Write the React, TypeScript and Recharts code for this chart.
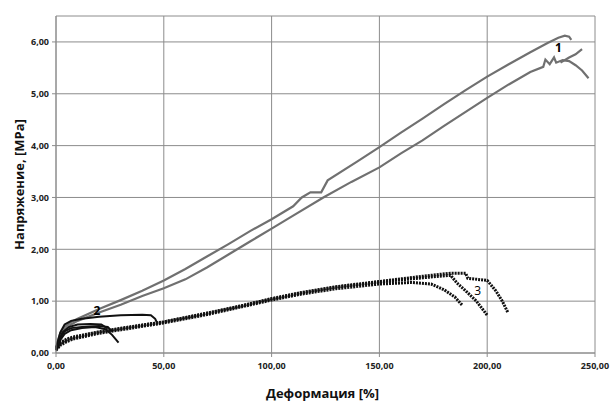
import React from "react";
import { LineChart, Line, XAxis, YAxis, CartesianGrid, Label, ReferenceDot } from "recharts";

// strain [%] / stress [MPa] readings
const curve1a = [
  { x: 0, y: 0.08 }, { x: 1, y: 0.25 }, { x: 2, y: 0.38 }, { x: 4, y: 0.5 }, { x: 7, y: 0.6 },
  { x: 10, y: 0.66 }, { x: 20, y: 0.85 }, { x: 30, y: 1.02 }, { x: 40, y: 1.2 }, { x: 50, y: 1.4 },
  { x: 60, y: 1.62 }, { x: 70, y: 1.86 }, { x: 80, y: 2.1 }, { x: 90, y: 2.35 }, { x: 100, y: 2.58 },
  { x: 110, y: 2.83 }, { x: 114, y: 3.0 }, { x: 118, y: 3.1 }, { x: 123, y: 3.1 }, { x: 126, y: 3.33 },
  { x: 140, y: 3.7 }, { x: 150, y: 3.97 }, { x: 160, y: 4.25 }, { x: 170, y: 4.52 }, { x: 180, y: 4.8 },
  { x: 190, y: 5.07 }, { x: 200, y: 5.33 }, { x: 210, y: 5.57 }, { x: 220, y: 5.8 }, { x: 228, y: 5.98 },
  { x: 233, y: 6.08 }, { x: 236, y: 6.12 }, { x: 238, y: 6.1 }, { x: 239, y: 6.04 },
];
const curve1b = [
  { x: 0, y: 0.05 }, { x: 1, y: 0.2 }, { x: 2, y: 0.32 }, { x: 4, y: 0.45 }, { x: 7, y: 0.55 },
  { x: 10, y: 0.62 }, { x: 20, y: 0.78 }, { x: 30, y: 0.93 }, { x: 40, y: 1.1 }, { x: 50, y: 1.25 },
  { x: 60, y: 1.42 }, { x: 70, y: 1.65 }, { x: 80, y: 1.9 }, { x: 90, y: 2.15 }, { x: 100, y: 2.4 },
  { x: 110, y: 2.65 }, { x: 124, y: 3.0 }, { x: 137, y: 3.3 }, { x: 150, y: 3.58 }, { x: 160, y: 3.85 },
  { x: 170, y: 4.1 }, { x: 180, y: 4.38 }, { x: 190, y: 4.65 }, { x: 200, y: 4.92 }, { x: 210, y: 5.18 },
  { x: 220, y: 5.42 }, { x: 226, y: 5.52 }, { x: 227, y: 5.66 }, { x: 229, y: 5.57 }, { x: 231, y: 5.7 },
  { x: 232, y: 5.6 }, { x: 235, y: 5.65 }, { x: 238, y: 5.63 }, { x: 241, y: 5.55 }, { x: 244, y: 5.45 },
  { x: 247, y: 5.3 },
];
const curve1c = [
  { x: 234, y: 5.6 }, { x: 238, y: 5.7 }, { x: 241, y: 5.76 }, { x: 244, y: 5.86 },
];
const curve2a = [
  { x: 0, y: 0.1 }, { x: 2, y: 0.4 }, { x: 4, y: 0.55 }, { x: 7, y: 0.62 }, { x: 12, y: 0.66 },
  { x: 20, y: 0.7 }, { x: 30, y: 0.73 }, { x: 40, y: 0.74 }, { x: 44, y: 0.73 }, { x: 46, y: 0.66 },
  { x: 47, y: 0.57 },
];
const curve2b = [
  { x: 0, y: 0.08 }, { x: 2, y: 0.3 }, { x: 4, y: 0.42 }, { x: 7, y: 0.48 }, { x: 12, y: 0.5 },
  { x: 20, y: 0.52 }, { x: 24, y: 0.5 }, { x: 26, y: 0.42 },
];
const curve2c = [
  { x: 0, y: 0.06 }, { x: 2, y: 0.25 }, { x: 4, y: 0.37 }, { x: 7, y: 0.44 }, { x: 12, y: 0.48 },
  { x: 18, y: 0.5 }, { x: 23, y: 0.46 }, { x: 26, y: 0.35 }, { x: 29, y: 0.2 },
];
const curve2d = [
  { x: 0, y: 0.08 }, { x: 3, y: 0.4 }, { x: 6, y: 0.5 }, { x: 10, y: 0.55 }, { x: 16, y: 0.56 },
  { x: 21, y: 0.55 }, { x: 24, y: 0.47 },
];
const curve3a = [
  { x: 0, y: 0.05 }, { x: 2, y: 0.15 }, { x: 5, y: 0.22 }, { x: 8, y: 0.27 }, { x: 20, y: 0.38 },
  { x: 35, y: 0.48 }, { x: 50, y: 0.58 }, { x: 70, y: 0.74 }, { x: 85, y: 0.88 }, { x: 100, y: 1.02 },
  { x: 113, y: 1.13 }, { x: 130, y: 1.24 }, { x: 150, y: 1.33 }, { x: 165, y: 1.36 }, { x: 174, y: 1.33 },
  { x: 180, y: 1.22 }, { x: 185, y: 1.08 }, { x: 188.5, y: 0.92 },
];
const curve3b = [
  { x: 0, y: 0.08 }, { x: 2, y: 0.18 }, { x: 5, y: 0.25 }, { x: 8, y: 0.29 }, { x: 20, y: 0.4 },
  { x: 35, y: 0.5 }, { x: 50, y: 0.6 }, { x: 70, y: 0.76 }, { x: 85, y: 0.9 }, { x: 100, y: 1.04 },
  { x: 113, y: 1.15 }, { x: 130, y: 1.27 }, { x: 150, y: 1.37 }, { x: 170, y: 1.45 }, { x: 183, y: 1.5 },
  { x: 186, y: 1.35 }, { x: 190, y: 1.2 }, { x: 195, y: 1.0 }, { x: 200, y: 0.73 },
];
const curve3c = [
  { x: 0, y: 0.1 }, { x: 2, y: 0.2 }, { x: 5, y: 0.27 }, { x: 8, y: 0.31 }, { x: 20, y: 0.41 },
  { x: 35, y: 0.51 }, { x: 50, y: 0.6 }, { x: 70, y: 0.77 }, { x: 85, y: 0.9 }, { x: 100, y: 1.05 },
  { x: 113, y: 1.16 }, { x: 130, y: 1.28 }, { x: 150, y: 1.38 }, { x: 170, y: 1.48 }, { x: 183, y: 1.54 },
  { x: 190, y: 1.54 }, { x: 191, y: 1.44 }, { x: 200, y: 1.4 }, { x: 204, y: 1.2 }, { x: 207, y: 1.0 },
  { x: 209.5, y: 0.79 },
];

const xTicks = [0, 50, 100, 150, 200, 250];
const yTicks = [0, 1, 2, 3, 4, 5, 6];

const fmt = (v: number) => v.toFixed(2).replace(".", ",");

const GRAY = "#707070";
const BLACK = "#111111";
const tickStyle = { fontFamily: "Open Sans", fontSize: 9, fontWeight: 700, fill: "#222" };

export default function App() {
  return (
    <div style={{ position: "absolute", left: 0, top: 0, background: "#fff" }}>
      <LineChart width={611} height={406} margin={{ top: 16, right: 16, left: 0, bottom: 0 }}>
        <CartesianGrid stroke="#8c8c8c" strokeWidth={1} />
        <XAxis
          type="number"
          dataKey="x"
          domain={[0, 250]}
          ticks={xTicks}
          tickFormatter={fmt}
          height={53}
          stroke="#8c8c8c"
          tickSize={4}
          tickMargin={6}
          tick={tickStyle}
          allowDuplicatedCategory={false}
        >
          <Label
            value="Деформация [%]"
            position="center"
            dy={14}
            dx={-3}
            style={{ fontFamily: "Open Sans", fontSize: 13, fontWeight: 700, fill: "#111" }}
          />
        </XAxis>
        <YAxis
          type="number"
          dataKey="y"
          domain={[0, 6.5]}
          ticks={yTicks}
          tickFormatter={fmt}
          width={56}
          stroke="#8c8c8c"
          tickSize={4}
          tickMargin={3}
          tick={tickStyle}
        >
          <Label
            value="Напряжение, [MPa]"
            angle={-90}
            position="center"
            dx={-9}
            style={{ fontFamily: "Open Sans", fontSize: 13, fontWeight: 700, fill: "#111" }}
          />
        </YAxis>
        <Line data={curve1a} dataKey="y" stroke={GRAY} strokeWidth={2.2} dot={false} isAnimationActive={false} />
        <Line data={curve1b} dataKey="y" stroke={GRAY} strokeWidth={2.2} dot={false} isAnimationActive={false} />
        <Line data={curve1c} dataKey="y" stroke={GRAY} strokeWidth={2.2} dot={false} isAnimationActive={false} />
        <Line data={curve3a} dataKey="y" stroke={BLACK} strokeWidth={3} strokeDasharray="2 1" dot={false} isAnimationActive={false} />
        <Line data={curve3b} dataKey="y" stroke={BLACK} strokeWidth={3} strokeDasharray="2 1" dot={false} isAnimationActive={false} />
        <Line data={curve3c} dataKey="y" stroke={BLACK} strokeWidth={3} strokeDasharray="2 1" dot={false} isAnimationActive={false} />
        <Line data={curve2a} dataKey="y" stroke={BLACK} strokeWidth={2} dot={false} isAnimationActive={false} />
        <Line data={curve2b} dataKey="y" stroke={BLACK} strokeWidth={2} dot={false} isAnimationActive={false} />
        <Line data={curve2c} dataKey="y" stroke={BLACK} strokeWidth={2} dot={false} isAnimationActive={false} />
        <Line data={curve2d} dataKey="y" stroke={BLACK} strokeWidth={2} dot={false} isAnimationActive={false} />
        <ReferenceDot
          x={233}
          y={5.88}
          r={0}
          label={{ value: "1", position: "center", style: { fontFamily: "Open Sans", fontSize: 12, fontWeight: 700, fill: "#000" } }}
        />
        <ReferenceDot
          x={19}
          y={0.82}
          r={0}
          label={{ value: "2", position: "center", style: { fontFamily: "Open Sans", fontSize: 12, fontWeight: 700, fill: "#000" } }}
        />
        <ReferenceDot
          x={195.6}
          y={1.21}
          r={0}
          label={{ value: "3", position: "center", style: { fontFamily: "Open Sans", fontSize: 12, fill: "#000" } }}
        />
      </LineChart>
    </div>
  );
}
